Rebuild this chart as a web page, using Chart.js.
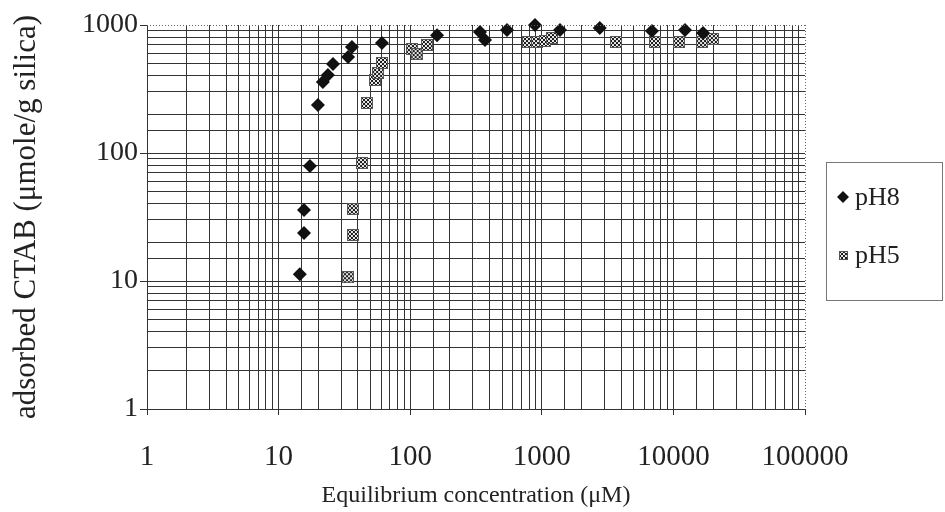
<!DOCTYPE html>
<html>
<head>
<meta charset="utf-8">
<script src="https://cdn.jsdelivr.net/npm/chart.js@4.4.0/dist/chart.umd.min.js"></script>
<style>
  html, body { margin: 0; padding: 0; background: #fff; }
  #wrap { width: 945px; height: 512px; }
</style>
</head>
<body>
<div id="wrap"><canvas id="ctab-chart"></canvas></div>
<script>
// equilibrium concentration (uM) and adsorbed amount (umole/g silica)
const concPH8 = [14.5, 15.6, 15.6, 17.3, 19.9, 21.7, 23.7, 25.9, 33.7, 36.1, 61, 160, 339, 370, 544, 888, 1375, 2756, 6870, 12250, 16800];
const adsPH8  = [11.3, 23.7, 35.9, 79, 237, 359, 407, 496, 562, 673, 724, 833, 881, 763, 914, 1000, 914, 948, 898, 914, 866];
const concPH5 = [33.7, 36.7, 36.7, 43, 47, 54, 57, 61, 103, 112, 134, 785, 919, 1057, 1195, 3660, 7245, 11030, 16500, 19960];
const adsPH5  = [10.7, 22.9, 36.5, 83.5, 246, 372, 422, 505, 649, 593, 698, 736, 736, 750, 791, 736, 736, 736, 736, 777];
const seriesNames = ['pH8', 'pH5'];
const xTickLabels = ['1', '10', '100', '1000', '10000', '100000'];
const yTickLabels = ['1', '10', '100', '1000'];

const serif = "'Liberation Serif', 'Times New Roman', serif";
const ink = '#222';

function toPoints(xs, ys) {
  let pts = [];
  for (let i = 0; i < xs.length; i++) pts.push({x: xs[i], y: ys[i]});
  return pts;
}

// checkered square marker like the scanned pH5 symbol
function checkerMarker(size) {
  let c = document.createElement('canvas');
  c.width = size; c.height = size;
  let g = c.getContext('2d');
  g.fillStyle = '#e8e8e8';
  g.fillRect(0, 0, size, size);
  g.fillStyle = '#1a1a1a';
  for (let i = 0; i < size; i += 2) {
    for (let j = 0; j < size; j += 2) {
      if (((i + j) / 2) % 2 == 0) g.fillRect(i, j, 2, 2);
    }
  }
  g.strokeStyle = '#555';
  g.lineWidth = 1;
  g.strokeRect(0.5, 0.5, size - 1, size - 1);
  return c;
}
const marker5 = checkerMarker(12);
const marker5small = checkerMarker(9);

function isDecade(v) {
  let l = Math.log10(v);
  return Math.abs(l - Math.round(l)) < 1e-9;
}

function decadeLabel(labels) {
  return function(value) {
    if (!isDecade(value)) return '';
    let s = String(Math.round(value));
    return labels.indexOf(s) >= 0 ? s : '';
  };
}

// dotted top/right frame and boxed legend
const framePlugin = {
  id: 'frame',
  afterDraw(chart) {
    let ctx = chart.ctx, a = chart.chartArea;
    ctx.save();
    ctx.strokeStyle = '#666';
    ctx.lineWidth = 1;
    ctx.setLineDash([1, 2]);
    ctx.beginPath();
    ctx.moveTo(a.left, Math.round(a.top) + 0.5);
    ctx.lineTo(a.right, Math.round(a.top) + 0.5);
    ctx.moveTo(Math.round(a.right) + 0.5, a.top);
    ctx.lineTo(Math.round(a.right) + 0.5, a.bottom);
    ctx.stroke();
    ctx.setLineDash([]);

    // legend
    let bx = 826, by = 162, bw = 116, bh = 138;
    ctx.strokeStyle = '#777';
    ctx.strokeRect(bx + 0.5, by + 0.5, bw, bh);
    ctx.fillStyle = '#111';
    ctx.beginPath();
    ctx.moveTo(843, 191); ctx.lineTo(849, 197); ctx.lineTo(843, 203); ctx.lineTo(837, 197);
    ctx.closePath(); ctx.fill();
    ctx.drawImage(marker5small, 839, 251);
    ctx.font = '26px ' + serif;
    ctx.fillStyle = ink;
    ctx.textBaseline = 'middle';
    ctx.fillText(seriesNames[0], 855, 198);
    ctx.fillText(seriesNames[1], 855, 256);
    ctx.restore();
  }
};

let ctx = document.getElementById('ctab-chart').getContext('2d');
let chart = new Chart(ctx, {
  type: 'scatter',
  data: {
    datasets: [{
      label: seriesNames[0],
      data: toPoints(concPH8, adsPH8),
      pointStyle: 'rectRot',
      pointRadius: 7,
      backgroundColor: '#111',
      borderColor: '#111',
      borderWidth: 0,
      clip: false
    }, {
      label: seriesNames[1],
      data: toPoints(concPH5, adsPH5),
      pointStyle: marker5,
      pointRadius: 6,
      clip: false
    }]
  },
  options: {
    responsive: true,
    maintainAspectRatio: false,
    animation: false,
    layout: { padding: { top: 25, right: 140, left: 0, bottom: 0 } },
    plugins: {
      legend: { display: false },
      tooltip: { enabled: false }
    },
    scales: {
      x: {
        type: 'logarithmic',
        min: 1,
        max: 100000,
        afterFit: function(s) { s.height = 103; },
        grid: {
          color: function(c) { return c.tick && c.tick.value == 100000 ? 'rgba(0,0,0,0)' : '#333'; },
          lineWidth: 1,
          tickLength: 6,
          tickColor: function(c) { return c.tick && isDecade(c.tick.value) ? '#333' : 'rgba(0,0,0,0)'; }
        },
        border: { color: '#333', width: 1 },
        ticks: {
          autoSkip: false,
          maxRotation: 0,
          padding: 25,
          color: ink,
          font: { family: serif, size: 29 },
          callback: decadeLabel(xTickLabels)
        },
        title: {
          display: true,
          text: 'Equilibrium concentration (\u03bcM)',
          color: ink,
          font: { family: serif, size: 24 },
          padding: { top: 0, bottom: 2 }
        }
      },
      y: {
        type: 'logarithmic',
        min: 1,
        max: 1000,
        afterFit: function(s) { s.width = 147; },
        grid: {
          color: function(c) { return c.tick && c.tick.value == 1000 ? 'rgba(0,0,0,0)' : '#333'; },
          lineWidth: 1,
          tickLength: 7,
          tickColor: function(c) { return c.tick && isDecade(c.tick.value) ? '#333' : 'rgba(0,0,0,0)'; }
        },
        border: { color: '#333', width: 1 },
        ticks: {
          autoSkip: false,
          padding: 2,
          color: ink,
          font: { family: serif, size: 28 },
          callback: decadeLabel(yTickLabels)
        },
        title: {
          display: true,
          text: 'adsorbed CTAB (\u03bcmole/g silica)',
          color: ink,
          font: { family: serif, size: 31 },
          padding: { top: 8, bottom: 0 }
        }
      }
    }
  },
  plugins: [framePlugin]
});
</script>
</body>
</html>
